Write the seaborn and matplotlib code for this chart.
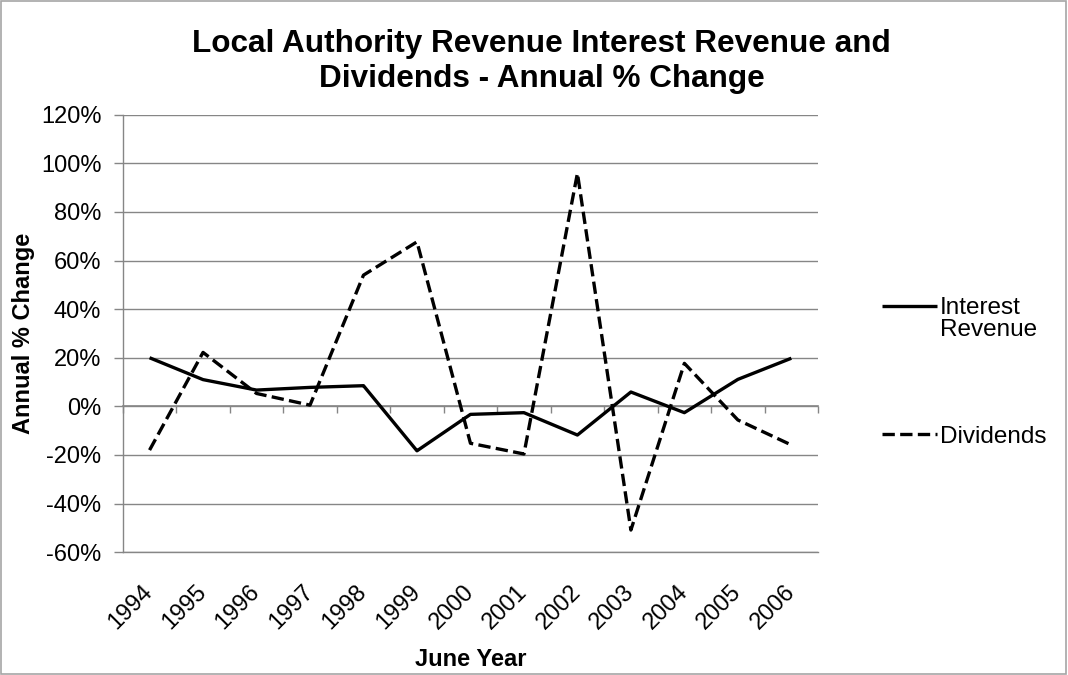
import matplotlib
matplotlib.use("Agg")
import matplotlib.pyplot as plt
import matplotlib.ticker as mticker
from matplotlib.patches import Rectangle
import seaborn as sns
import pandas as pd

years = ["1994", "1995", "1996", "1997", "1998", "1999", "2000",
         "2001", "2002", "2003", "2004", "2005", "2006"]
interest_revenue = [0.20, 0.11, 0.067, 0.078, 0.085, -0.183, -0.033,
                    -0.026, -0.118, 0.059, -0.026, 0.111, 0.198]
dividends = [-0.18, 0.222, 0.053, 0.005, 0.54, 0.677, -0.152,
             -0.196, 0.959, -0.509, 0.177, -0.056, -0.159]
series_names = ["Interest Revenue", "Dividends"]

df = pd.concat([
    pd.DataFrame({"year": years, "value": interest_revenue, "series": series_names[0]}),
    pd.DataFrame({"year": years, "value": dividends, "series": series_names[1]}),
])

sns.set_theme(style="white")
plt.rcParams["font.family"] = ["Liberation Sans", "DejaVu Sans"]
plt.rcParams["axes.unicode_minus"] = False
for key in ["text.color", "axes.labelcolor", "xtick.labelcolor", "ytick.labelcolor"]:
    plt.rcParams[key] = "black"

fig = plt.figure(figsize=(10.68, 6.75), dpi=100)
ax = fig.add_axes([0.115, 0.182, 0.651, 0.648])

grid_col = "#868686"
sns.lineplot(data=df, x="year", y="value", style="series", hue="series",
             palette=["black", "black"], dashes=[(1, 0), (3.7, 1.6)],
             linewidth=2.4, sort=False, ax=ax, legend=True)

ax.set_xlim(-0.5, len(years) - 0.5)
ax.set_ylim(-0.6, 1.2)
ax.yaxis.set_major_locator(mticker.MultipleLocator(0.2))
ax.yaxis.set_major_formatter(mticker.PercentFormatter(1.0, decimals=0))
ax.grid(axis="y", color=grid_col, linewidth=1.0)
ax.grid(axis="x", visible=False)
ax.set_axisbelow(True)
for side in ["top", "right"]:
    ax.spines[side].set_visible(False)
for side in ["left", "bottom"]:
    ax.spines[side].set_color(grid_col)
    ax.spines[side].set_linewidth(1.0)

ax.tick_params(axis="y", which="major", left=True, length=6.5, width=1,
               color=grid_col, labelsize=17, pad=9)
ax.tick_params(axis="x", which="major", bottom=False, length=0,
               labelsize=17, pad=26)
plt.setp(ax.get_xticklabels(), rotation=45, ha="right", va="center",
         rotation_mode="anchor")

# horizontal category axis crossing at 0%
sec = ax.secondary_xaxis(0.6 / 1.8)
sec.set_xticks([i - 0.5 for i in range(len(years) + 1)])
sec.set_xticklabels([])
sec.tick_params(length=5, width=1, color=grid_col, direction="out")
sec.spines["bottom"].set_color(grid_col)
sec.spines["bottom"].set_linewidth(1.2)

ax.set_xlabel("June Year", fontsize=17, fontweight="bold", va="top")
ax.xaxis.set_label_coords(0.5, -0.2195)
ax.set_ylabel("Annual % Change", fontsize=17, fontweight="bold", labelpad=4)

fig.text(0.507, 0.909,
         "Local Authority Revenue Interest Revenue and\nDividends - Annual % Change",
         ha="center", va="center", multialignment="center",
         fontsize=22.7, fontweight="bold", linespacing=1.19)

handles, _ = ax.get_legend_handles_labels()
leg = ax.legend(handles, ["Interest", "Dividends"], loc="upper left",
                bbox_to_anchor=(0.826, 0.560), bbox_transform=fig.transFigure,
                frameon=False, fontsize=17.5, handlelength=2.26,
                handletextpad=0.12, labelspacing=4.4, borderaxespad=0,
                borderpad=0)
# second line of the wrapped "Interest Revenue" entry, placed under its first line
ax.annotate("Revenue", xy=(0, 0), xycoords=leg.get_texts()[0],
            ha="left", va="top", fontsize=17.5, annotation_clip=False,
            zorder=leg.get_zorder() + 1)

fig.patches.append(Rectangle((0.001, 0.001), 0.997, 0.997, transform=fig.transFigure,
                             fill=False, edgecolor="#a6a6a6", linewidth=1.2))

fig.canvas.draw()
fig.savefig("out.png", dpi=100)
